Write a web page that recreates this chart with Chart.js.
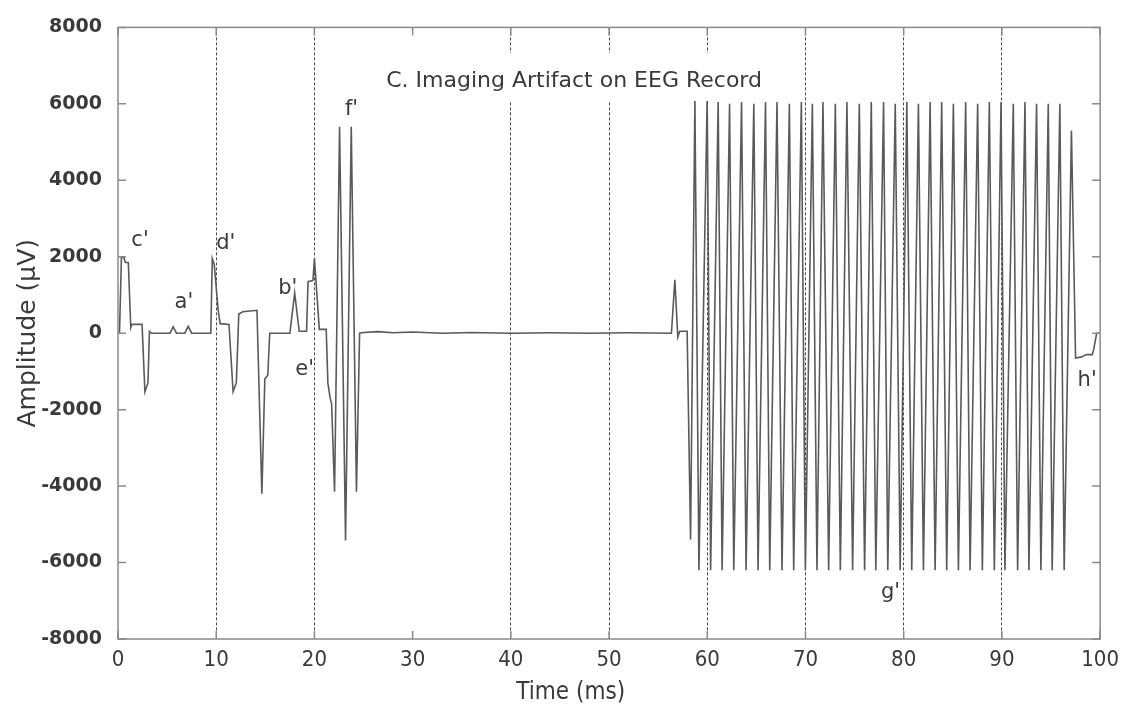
<!DOCTYPE html>
<html>
<head>
<meta charset="utf-8">
<script src="https://cdn.jsdelivr.net/npm/chart.js@4.4.1/dist/chart.umd.min.js"></script>
<style>
  html, body { margin: 0; padding: 0; background: #fff; }
  canvas { display: block; }
</style>
</head>
<body>
<canvas id="eeg" width="1127" height="710"></canvas>
<script>
// early artifacts c' .. f' (0 - 25 ms)
const artifactTimes = [0, 0.15, 0.35, 0.6, 0.75, 1.05, 1.3, 1.4, 2.45, 2.74, 3.05, 3.2, 3.4,
  5.3, 5.62, 5.95, 6.8, 7.15, 7.5, 9.45, 9.6, 9.8, 10.2, 10.4, 11.3, 11.72, 12.05, 12.3, 12.7,
  14.15, 14.65, 14.95, 15.25, 15.45, 17.5, 17.99, 18.45, 19.2, 19.35, 19.85, 20.0, 20.5, 21.2,
  21.37, 21.6, 21.75, 22.05, 22.56, 23.17, 23.75, 24.28, 24.6];
const artifactAmps = [0, 0, 1990, 1980, 1850, 1850, 150, 230, 230, -1530, -1300, 50, 0,
  0, 170, 0, 0, 180, 0, 0, 1950, 1800, 600, 250, 230, -1530, -1300, 500, 560,
  600, -4200, -1200, -1100, 0, 0, 1050, 50, 50, 1350, 1380, 1950, 100, 100,
  -1300, -1700, -1850, -4150, 5400, -5420, 5400, -4150, 0];

// quiet stretch
const quietTimes = [25.0, 26.5, 28, 30, 33, 36, 40, 44, 48, 52, 56.35];
const quietAmps  = [20, 40, 10, 30, 0, 20, 0, 10, 0, 10, 0];

// imaging artifact burst g' and tail h'
const burstTimes = [56.7, 57.0, 57.2, 57.95, 58.30, 58.74, 59.15, 59.99, 60.34,
  61.11, 61.51, 62.27, 62.70, 63.49, 63.95, 64.74, 65.17, 65.93, 66.36, 67.10, 67.61,
  68.36, 68.80, 69.58, 69.99, 70.70, 71.17, 71.78, 72.36, 73.04, 73.55, 74.22, 74.80,
  75.48, 76.02, 76.70, 77.16, 77.95, 78.38, 79.14, 79.64, 80.32, 80.82, 81.50, 82.01,
  82.69, 83.20, 83.87, 84.38, 85.06, 85.57, 86.31, 86.76, 87.53, 88.01, 88.72, 89.23,
  89.91, 90.31, 91.16, 91.60, 92.35, 92.75, 93.53, 93.97, 94.72, 95.12, 95.90, 96.34,
  97.08, 97.50, 98.10, 98.60, 99.20, 99.35, 99.65, 100];
const burstAmps = [1400, -100, 50, 50, -5400, 6100, -6200, 6150, -6200,
  6050, -6200, 6000, -6200, 6050, -6200, 6000, -6200, 6050, -6200, 6050, -6200,
  6000, -6200, 6050, -6200, 6000, -6200, 6050, -6200, 6000, -6200, 6050, -6200,
  6000, -6200, 6050, -6200, 6050, -6200, 6000, -6200, 6050, -6200, 6000, -6200,
  6050, -6200, 6050, -6200, 6000, -6200, 6050, -6200, 6000, -6200, 6050, -6200,
  6050, -6200, 6000, -6200, 6050, -6200, 6000, -6200, 6000, -6200, 6000, -6200,
  5300, -650, -620, -560, -560, -420, 0, 0];

const gridTimes = [10, 20, 40, 50, 60, 70, 80, 90];
const markerNames = ["c'", "a'", "d'", "b'", "e'", "f'", "g'", "h'"];
const markerTimes = [2.24, 6.71, 10.98, 17.28, 19.0, 23.78, 78.66, 98.68];
const markerAmps  = [2425, 800, 2350, 1160, -955, 5850, -6790, -1240];
const plotTitle = 'C. Imaging Artifact on EEG Record';
const titleAt = [46.44, 6600];
const xTitle = 'Time (ms)';

const toPoints = (ts, vs) => ts.map((t, i) => ({ x: t, y: vs[i] }));
const trace = [].concat(toPoints(artifactTimes, artifactAmps), toPoints(quietTimes, quietAmps), toPoints(burstTimes, burstAmps));

const sans = '"DejaVu Sans", Verdana, sans-serif';
const narrow = '"DejaVu Sans Condensed", "Liberation Sans Narrow", "DejaVu Sans", sans-serif';
const ink = '#3a3a3a';

const overlay = {
  id: 'overlay',
  afterDraw(chart) {
    const { ctx, chartArea: a, scales: { x, y } } = chart;
    ctx.save();
    ctx.strokeStyle = '#8a8a8a';
    ctx.lineWidth = 1.5;
    ctx.strokeRect(a.left, a.top, a.right - a.left, a.bottom - a.top);
    ctx.beginPath();
    y.ticks.forEach(t => {
      const py = y.getPixelForValue(t.value);
      ctx.moveTo(a.left, py); ctx.lineTo(a.left + 8, py);
      ctx.moveTo(a.right, py); ctx.lineTo(a.right - 8, py);
    });
    x.ticks.forEach(t => {
      const px = x.getPixelForValue(t.value);
      ctx.moveTo(px, a.bottom); ctx.lineTo(px, a.bottom - 8);
      ctx.moveTo(px, a.top); ctx.lineTo(px, a.top + 8);
    });
    ctx.stroke();

    // title sits on a white box that breaks the grid lines
    ctx.font = '22px ' + sans;
    ctx.textAlign = 'center';
    ctx.textBaseline = 'middle';
    const tx = x.getPixelForValue(titleAt[0]), ty = y.getPixelForValue(titleAt[1]);
    const w = ctx.measureText(plotTitle).width;
    ctx.fillStyle = '#fff';
    ctx.fillRect(tx - w / 2 - 6, ty - 28, w + 12, 48);
    ctx.fillStyle = ink;
    ctx.fillText(plotTitle, tx, ty);

    ctx.font = '21px ' + sans;
    markerNames.forEach((m, i) => {
      ctx.fillText(m, x.getPixelForValue(markerTimes[i]), y.getPixelForValue(markerAmps[i]));
    });

    // x axis title, a little left of centre as in the source figure
    ctx.font = '24px ' + narrow;
    ctx.fillText(xTitle, x.getPixelForValue(46.1), a.bottom + 54);
    ctx.restore();
  }
};

new Chart(document.getElementById('eeg'), {
  type: 'line',
  data: {
    datasets: [{
      data: trace,
      borderColor: '#5a5a5a',
      borderWidth: 1.6,
      pointRadius: 0,
      tension: 0,
      fill: false
    }]
  },
  options: {
    responsive: false,
    animation: false,
    layout: { padding: { top: 19, right: 25, left: 0, bottom: 0 } },
    plugins: { legend: { display: false }, tooltip: { enabled: false } },
    scales: {
      x: {
        type: 'linear', min: 0, max: 100,
        afterFit: s => { s.height = 71; },
        ticks: { stepSize: 10, padding: 8, maxRotation: 0, autoSkip: false, color: ink,
          font: { family: narrow, size: 22 } },
        grid: {
          drawTicks: false,
          color: c => gridTimes.includes(c.tick && c.tick.value) ? '#4a4a4a' : 'rgba(0,0,0,0)',
          lineWidth: 1
        },
        border: { display: false, dash: [3, 2] },
        title: { display: false }
      },
      y: {
        min: -8000, max: 8000,
        afterFit: s => { s.width = 118; },
        ticks: { stepSize: 2000, padding: 16, color: ink, callback: v => String(v),
          font: { family: sans, size: 19, weight: 'bold' } },
        grid: { display: false, drawTicks: false },
        border: { display: false },
        title: { display: true, text: 'Amplitude (µV)', color: ink, padding: { top: 13, bottom: 0 },
          font: { family: sans, size: 25 } }
      }
    }
  },
  plugins: [overlay]
});
</script>
</body>
</html>
